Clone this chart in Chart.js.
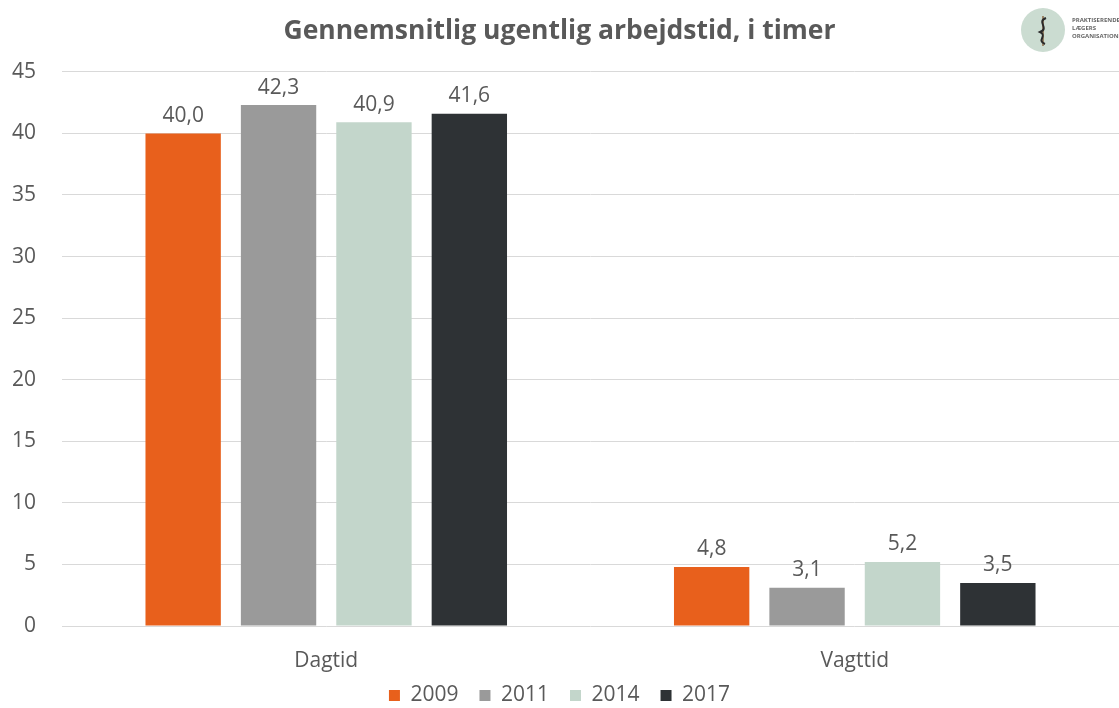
<!DOCTYPE html>
<html>
<head>
<meta charset="utf-8">
<script src="https://cdn.jsdelivr.net/npm/chart.js@4/dist/chart.umd.min.js"></script>
<style>
  body{margin:0;background:#fff;}
  #wrap{width:1119px;height:708px;}
</style>
</head>
<body>
<div id="wrap"><canvas id="workChart" width="1119" height="708"></canvas></div>
<script>
const categories = ['Dagtid', 'Vagttid'];
const years = ['2009', '2011', '2014', '2017'];
const hours2009 = [40.0, 4.8];
const hours2011 = [42.3, 3.1];
const hours2014 = [40.9, 5.2];
const hours2017 = [41.6, 3.5];
const yTicks = [0, 5, 10, 15, 20, 25, 30, 35, 40, 45];

const seriesValues = [hours2009, hours2011, hours2014, hours2017];
const seriesColors = ['#E8601C', '#9A9A9A', '#C3D6CB', '#2E3235'];
const textColor = '#595959';

const valueLabels = {
  id: 'valueLabels',
  afterDatasetsDraw(chart){
    const ctx = chart.ctx;
    ctx.save();
    ctx.font = '21px "Open Sans"';
    ctx.fillStyle = textColor;
    ctx.textAlign = 'center';
    ctx.textBaseline = 'bottom';
    chart.data.datasets.forEach((ds, i) => {
      chart.getDatasetMeta(i).data.forEach((bar, j) => {
        ctx.fillText(ds.data[j].toFixed(1).replace('.', ','), bar.x, bar.y - 7);
      });
    });
    ctx.restore();
  }
};

// nudge the legend a bit lower, closer to the bottom edge
const legendNudge = {
  id: 'legendNudge',
  afterLayout(chart){
    if(!chart.legend)return;
    chart.legend.top += 8;
    chart.legend.bottom += 8;
  }
};

const logo = {
  id: 'logo',
  afterDraw(chart){
    const ctx = chart.ctx;
    ctx.save();
    ctx.fillStyle = '#CBDCD1';
    ctx.beginPath();
    ctx.arc(1043, 30, 22, 0, Math.PI * 2);
    ctx.fill();
    ctx.strokeStyle = '#8a6a45';
    ctx.lineWidth = 1.5;
    ctx.beginPath();
    ctx.moveTo(1043, 16);
    ctx.lineTo(1043, 46);
    ctx.stroke();
    ctx.strokeStyle = '#2a2a2a';
    ctx.lineWidth = 2;
    ctx.beginPath();
    ctx.moveTo(1046, 18);
    ctx.bezierCurveTo(1036, 22, 1050, 28, 1040, 32);
    ctx.bezierCurveTo(1048, 36, 1036, 40, 1045, 44);
    ctx.stroke();
    ctx.fillStyle = '#666';
    ctx.font = 'bold 6px "Open Sans"';
    ctx.textAlign = 'left';
    ctx.fillText('PRAKTISERENDE', 1072, 20);
    ctx.fillText('LÆGERS', 1072, 28);
    ctx.fillText('ORGANISATION', 1072, 36);
    ctx.restore();
  }
};

new Chart(document.getElementById('workChart'), {
  type: 'bar',
  data: {
    labels: categories,
    datasets: years.map((year, i) => ({
      label: year,
      data: seriesValues[i],
      backgroundColor: seriesColors[i],
      categoryPercentage: 0.722,
      barPercentage: 0.79
    }))
  },
  options: {
    responsive: false,
    animation: false,
    layout: {padding: 0},
    plugins: {
      title: {
        display: true,
        text: 'Gennemsnitlig ugentlig arbejdstid, i timer',
        color: textColor,
        font: {family: '"Open Sans"', size: 26.5, weight: 'bold'},
        padding: {top: 16, bottom: 24}
      },
      legend: {
        position: 'bottom',
        labels: {
          color: textColor,
          font: {family: '"Open Sans"', size: 21},
          boxWidth: 11,
          boxHeight: 11,
          padding: 0,
          generateLabels(chart){
            const items = Chart.defaults.plugins.legend.labels.generateLabels(chart);
            items.forEach((item, i) => {
              if(i < items.length - 1) item.text = item.text + '\u2002\u2002';
            });
            return items;
          }
        }
      },
      tooltip: {enabled: false}
    },
    scales: {
      x: {
        afterFit(scale){ scale.height = 51; },
        grid: {display: false},
        border: {display: false},
        ticks: {color: textColor, font: {family: '"Open Sans"', size: 21}, padding: 14}
      },
      y: {
        min: 0,
        max: 45,
        afterFit(scale){ scale.width = 62; },
        afterBuildTicks(scale){ scale.ticks = yTicks.map(v => ({value: v})); },
        grid: {color: '#D9D9D9', drawTicks: false},
        border: {display: false},
        ticks: {color: textColor, font: {family: '"Open Sans"', size: 21}, padding: 26}
      }
    }
  },
  plugins: [valueLabels, legendNudge, logo]
});
</script>
</body>
</html>
